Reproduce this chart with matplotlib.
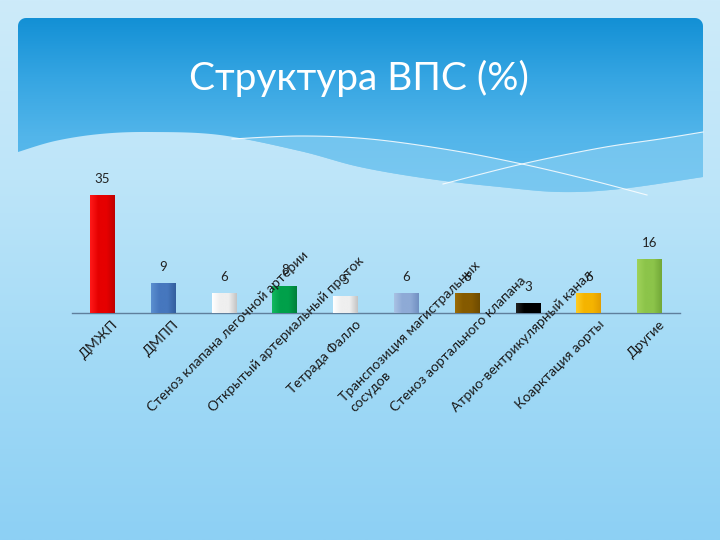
import numpy as np
import matplotlib
matplotlib.use('Agg')
import matplotlib.pyplot as plt
from matplotlib.colors import LinearSegmentedColormap
from matplotlib.patches import Polygon
from matplotlib.transforms import offset_copy

plt.rcParams['font.family'] = ['Lato', 'DejaVu Sans']

title = 'Структура ВПС (%)'
categories = ['ДМЖП', 'ДМПП', 'Стеноз клапана легочной артерии',
              'Открытый артериальный проток', 'Тетрада Фалло',
              'Транспозиция магистральных\nсосудов', 'Стеноз аортального клапана',
              'Атрио-вентрикулярный канал', 'Коарктация аорты', 'Другие']
values = [35, 9, 6, 8, 5, 6, 6, 3, 6, 16]
# (light edge, middle, dark edge) for the cylinder-like shading
bar_colors = [('#ff1a1a', '#e60000', '#c00000'),
              ('#5b8fd0', '#4677be', '#345f9e'),
              ('#ffffff', '#efefef', '#c4c4c4'),
              ('#12b860', '#00a04a', '#007f3a'),
              ('#ffffff', '#efefef', '#c4c4c4'),
              ('#a9c2e4', '#8eaad6', '#7191c2'),
              ('#9a6c08', '#855a00', '#6e4b00'),
              ('#222222', '#000000', '#000000'),
              ('#ffcc22', '#f5b400', '#e39e00'),
              ('#9fd25a', '#8cc44a', '#72a838')]


def smooth(px, py, n=20):
    # Catmull-Rom through the given points
    p = np.column_stack([px, py]).astype(float)
    p = np.vstack([p[0], p, p[-1]])
    out = []
    for i in range(1, len(p) - 2):
        p0, p1, p2, p3 = p[i - 1], p[i], p[i + 1], p[i + 2]
        for s in np.linspace(0, 1, n, endpoint=False):
            out.append(0.5 * ((2 * p1) + (-p0 + p2) * s +
                              (2 * p0 - 5 * p1 + 4 * p2 - p3) * s ** 2 +
                              (-p0 + 3 * p1 - 3 * p2 + p3) * s ** 3))
    out.append(p[-2])
    return np.array(out)


fig = plt.figure(figsize=(7.2, 5.4), dpi=100)

# ---- slide background (pixel coords) ----
bg = fig.add_axes([0, 0, 1, 1])
bg.set_xlim(0, 720)
bg.set_ylim(540, 0)
bg.axis('off')
bg_cmap = LinearSegmentedColormap.from_list('bg', ['#cdebfa', '#bde5f9', '#a2daf6', '#8dd0f4'])
grad = np.linspace(0, 1, 256).reshape(-1, 1)
bg.imshow(grad, extent=[0, 720, 540, 0], cmap=bg_cmap, aspect='auto', zorder=0)

# title panel with wavy bottom
wave = smooth([703, 620, 560, 500, 430, 360, 300, 220, 150, 100, 55, 18],
              [177, 189, 192, 187, 179, 167, 151, 135, 132, 134, 141, 152])
r = 8
a1 = np.linspace(np.pi, 1.5 * np.pi, 8)
a2 = np.linspace(1.5 * np.pi, 2 * np.pi, 8)
top = np.vstack([[[18, 152]],
                 np.column_stack([18 + r + r * np.cos(a1), 18 + r + r * np.sin(a1)]),
                 np.column_stack([703 - r + r * np.cos(a2), 18 + r + r * np.sin(a2)]),
                 [[703, 177]]])
panel = Polygon(np.vstack([top, wave]), closed=True, facecolor='none', edgecolor='none')
bg.add_patch(panel)
panel_cmap = LinearSegmentedColormap.from_list('pn', ['#1390d5', '#35a5e2', '#52b5ea', '#62bdee'])
im = bg.imshow(grad, extent=[18, 703, 195, 18], cmap=panel_cmap, aspect='auto', zorder=1)
im.set_clip_path(panel)

# white lines and the lighter band under them
line1 = smooth([232, 300, 370, 450, 522, 590, 647], [139, 136, 139, 150, 164, 180, 195])
line2 = smooth([443, 522, 600, 660, 703], [184, 164, 148, 139, 132])
band_top = np.vstack([line1[line1[:, 0] <= 522], line2[line2[:, 0] > 522]])
band = Polygon(np.vstack([band_top, [[703, 260], [232, 260]]]), closed=True,
               facecolor='#8ad0f3', edgecolor='none', alpha=0.6, zorder=2)
bg.add_patch(band)
band.set_clip_path(panel)
bg.plot(line1[:, 0], line1[:, 1], color='white', lw=0.8, alpha=0.85, zorder=4)
bg.plot(line2[:, 0], line2[:, 1], color='white', lw=0.8, alpha=0.85, zorder=4)

bg.text(359, 78, title, color='white', fontsize=28, ha='center', va='center', zorder=5)

# ---- chart ----
ax = fig.add_axes([72 / 720, (540 - 313) / 540, 608 / 720, 150 / 540])
ax.patch.set_alpha(0)
x = np.arange(len(values))
bw = 0.41
bars = ax.bar(x, values, width=bw, color=[c[1] for c in bar_colors], zorder=2)
hgrad = np.linspace(0, 1, 64).reshape(1, -1)
for b, c, xi, v in zip(bars, bar_colors, x, values):
    cm = LinearSegmentedColormap.from_list('b', [c[0], c[1], c[1], c[2]])
    gi = ax.imshow(hgrad, extent=[xi - bw / 2, xi + bw / 2, 0, v], cmap=cm,
                   aspect='auto', zorder=3)
    gi.set_clip_path(b)
    ax.annotate(str(v), (xi, v), xytext=(0, 7), textcoords='offset points',
                ha='center', va='bottom', fontsize=9.5, color='#222222', zorder=4)

ax.set_xlim(-0.5, 9.5)
ax.set_ylim(0, 44.5)
for s in ['top', 'right', 'left']:
    ax.spines[s].set_visible(False)
ax.spines['bottom'].set_color('#5f7f9c')
ax.spines['bottom'].set_linewidth(1)
ax.set_xticks([])
ax.set_yticks([])

# rotated category labels, pushed up along the diagonal when too long
xtr = ax.get_xaxis_transform()
labels = []
for xi, name in zip(x, categories):
    tr = offset_copy(xtr, fig=fig, x=9, y=-5, units='dots')
    tl = ax.text(xi, 0, name, transform=tr, rotation=45, rotation_mode='anchor',
                 ha='right', va='top', fontsize=10, color='#1a1a1a',
                 multialignment='left', zorder=6)
    labels.append(tl)

fig.canvas.draw()
rend = fig.canvas.get_renderer()
limit = 540 - 414
for tl in labels:
    bb = tl.get_window_extent(rend)
    if bb.y0 < limit:
        d = limit - bb.y0
        tl.set_transform(offset_copy(xtr, fig=fig, x=9 + d, y=-5 + d, units='dots'))

fig.savefig('out.png', dpi=100)
